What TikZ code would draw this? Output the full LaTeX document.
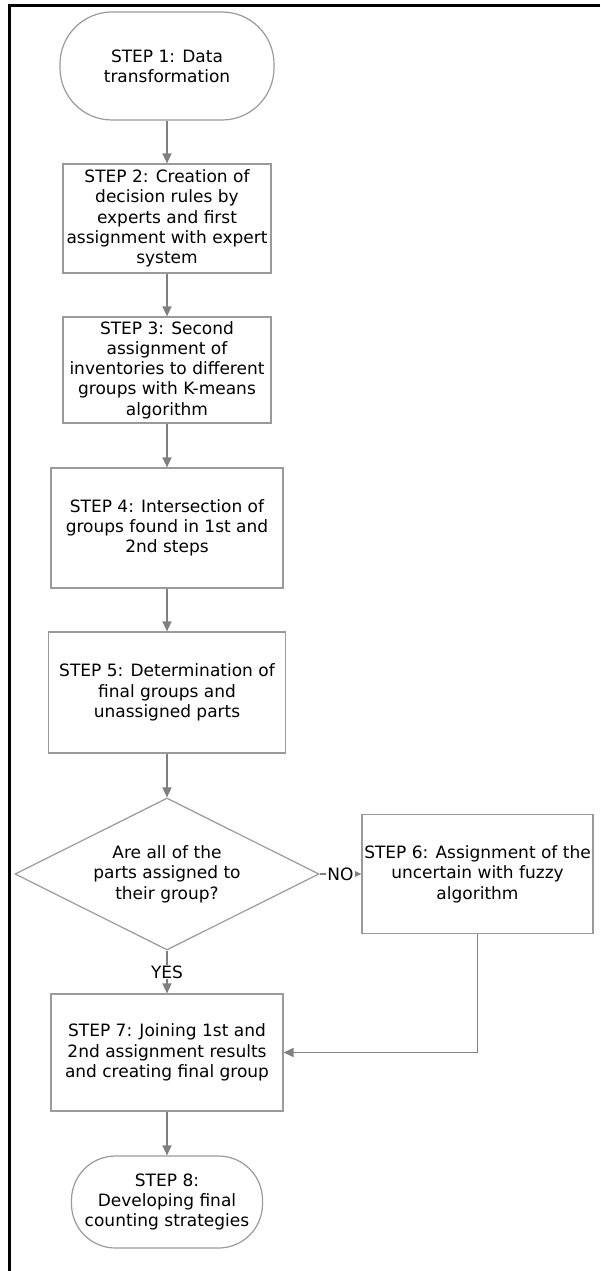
\documentclass[tikz,border=0pt]{standalone}
\usepackage{fontspec}
\setmainfont{DejaVu Sans}
\usetikzlibrary{arrows.meta,shapes.geometric}
\definecolor{linegray}{HTML}{808080}
\definecolor{boxgray}{HTML}{9A9A9A}
\begin{document}
\begin{tikzpicture}[x=1pt,y=-1pt,
  every node/.style={font=\fontsize{17}{20.3}\selectfont, align=center, inner sep=0pt},
  box/.style={draw=boxgray, line width=1.2pt, fill=white},
  term/.style={box, rounded corners=#1},
  conn/.style={draw=linegray, line width=1.5pt, -{Triangle[length=10pt,width=9pt]}},
  lbl/.style={fill=white, inner sep=1pt}]
\useasboundingbox (0,0) rectangle (600,1271);
\fill[white] (0,0) rectangle (600,1271);
\draw[line width=3pt] (600,6) -- (9.5,6) -- (9.5,1271);

\node[term=52pt, minimum width=214pt, minimum height=108pt] (s1) at (167,66)
  {STEP 1: Data\\transformation};
\node[box, minimum width=208pt, minimum height=109pt] (s2) at (167,218.5)
  {STEP 2: Creation of\\decision rules by\\experts and first\\assignment with expert\\system};
\node[box, minimum width=208pt, minimum height=106pt] (s3) at (167,370)
  {STEP 3: Second\\assignment of\\inventories to different\\groups with K-means\\algorithm};
\node[box, minimum width=232pt, minimum height=120pt] (s4) at (167,528)
  {STEP 4: Intersection of\\groups found in 1st and\\2nd steps};
\node[box, minimum width=237pt, minimum height=121pt] (s5) at (167,692.5)
  {STEP 5: Determination of\\final groups and\\unassigned parts};
\node[box, diamond, aspect=2, minimum width=304pt, minimum height=152pt] (dia) at (167,874)
  {Are all of the\\parts assigned to\\their group?};
\node[box, minimum width=231pt, minimum height=119pt] (s6) at (477.5,874)
  {STEP 6: Assignment of the\\uncertain with fuzzy\\algorithm};
\node[box, minimum width=232pt, minimum height=117pt] (s7) at (167,1052.5)
  {STEP 7: Joining 1st and\\2nd assignment results\\and creating final group};
\node[term=44pt, minimum width=191pt, minimum height=92pt] (s8) at (167,1202)
  {STEP 8:\\Developing final\\counting strategies};

\draw[conn] (s1) -- (s2);
\draw[conn] (s2) -- (s3);
\draw[conn] (s3) -- (s4);
\draw[conn] (s4) -- (s5);
\draw[conn] (s5) -- (dia);
\draw[conn] (dia) -- node[lbl] (no) {NO} (s6);
\draw[conn] (dia) -- node[lbl] (yes) {YES} (s7);
\draw[conn] (s6.south) |- (s7.east);
\draw[conn] (s7) -- (s8);
\end{tikzpicture}
\end{document}
